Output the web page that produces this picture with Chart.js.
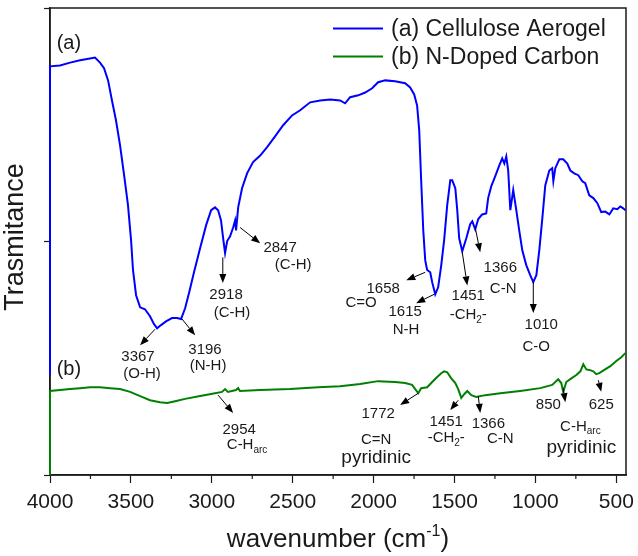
<!DOCTYPE html>
<html>
<head>
<meta charset="utf-8">
<script src="https://cdn.jsdelivr.net/npm/chart.js@4.4.1/dist/chart.umd.min.js"></script>
<style>
  html, body { margin: 0; padding: 0; background: #fff; }
</style>
</head>
<body>
<canvas id="ftirChart" width="638" height="556"></canvas>
<script>
// FTIR spectra: wavenumber (cm-1) vs. transmittance (arbitrary offset units)
const waveA = [
  4000, 4000, 3938, 3876, 3814, 3753, 3722, 3691, 3666, 3641,
  3617, 3592, 3567, 3542, 3518, 3499, 3487, 3468, 3443, 3413,
  3382, 3357, 3338, 3314, 3283, 3246, 3215, 3190, 3165, 3140,
  3110, 3072, 3035, 3004, 2980, 2961, 2943, 2930, 2918, 2905,
  2887, 2868, 2856, 2850, 2837, 2813, 2782, 2745, 2701, 2658,
  2609, 2559, 2504, 2454, 2392, 2330, 2268, 2207, 2176, 2145,
  2095, 2052, 2009, 1972, 1928, 1867, 1805, 1774, 1749, 1731,
  1718, 1706, 1693, 1681, 1669, 1650, 1638, 1619, 1601, 1582,
  1564, 1545, 1526, 1514, 1495, 1483, 1471, 1452, 1427, 1403,
  1390, 1372, 1353, 1329, 1304, 1292, 1273, 1248, 1223, 1205,
  1192, 1180, 1168, 1155, 1137, 1118, 1100, 1081, 1056, 1032,
  1013, 994, 976, 957, 939, 914, 896, 889, 877, 852,
  828, 803, 784, 760, 735, 710, 692, 667, 642, 617,
  593, 568, 543, 519, 494, 475, 457, 444
];
const transA = [
  21.4, 87.5, 87.7, 88.3, 88.8, 89.2, 89.4, 88.3, 87.1, 84.5,
  80.2, 75.9, 70.6, 64.2, 57.8, 50.3, 43.9, 38.5, 35.9, 35.5,
  34.0, 32.3, 31.4, 32.1, 32.9, 33.6, 33.6, 33.4, 35.7, 39.1,
  43.4, 48.6, 53.5, 56.7, 57.3, 56.7, 54.5, 50.7, 47.5, 50.1,
  51.1, 53.0, 54.5, 52.4, 57.3, 61.4, 64.6, 67.0, 68.4, 70.2,
  72.5, 74.9, 77.0, 78.1, 79.8, 80.2, 80.4, 80.2, 79.6, 80.9,
  81.3, 81.9, 82.8, 84.1, 84.5, 84.3, 83.9, 83.0, 81.5, 79.1,
  73.8, 63.1, 52.4, 46.0, 43.9, 43.4, 41.3, 38.7, 40.2, 44.9,
  50.3, 57.8, 63.1, 63.1, 61.4, 56.7, 50.7, 47.9, 50.7, 53.7,
  54.3, 52.6, 54.8, 55.8, 56.0, 59.3, 61.8, 64.0, 66.3, 67.8,
  66.7, 68.2, 65.2, 56.7, 61.0, 56.7, 52.4, 48.1, 44.9, 42.8,
  41.3, 42.8, 48.1, 55.0, 62.0, 65.2, 65.7, 62.9, 65.7, 67.6,
  67.6, 66.7, 65.2, 64.6, 64.2, 62.9, 62.5, 59.9, 59.3, 58.2,
  56.3, 56.4, 55.8, 57.1, 56.9, 57.5, 57.1, 56.7
];

const waveB = [
  4000, 4000, 3938, 3876, 3814, 3753, 3691, 3629, 3567, 3505,
  3443, 3382, 3320, 3276, 3227, 3165, 3072, 2980, 2937, 2918,
  2900, 2850, 2837, 2826, 2701, 2516, 2343, 2207, 2083, 1972,
  1867, 1805, 1762, 1724, 1706, 1669, 1638, 1607, 1582, 1564,
  1545, 1520, 1495, 1477, 1458, 1440, 1421, 1396, 1366, 1310,
  1217, 1094, 970, 896, 859, 840, 828, 809, 778, 747,
  722, 704, 685, 667, 642, 624, 605, 574, 537, 500,
  469, 444
];
const transB = [
  0, 18.0, 18.2, 18.4, 18.6, 18.8, 18.8, 18.6, 18.4, 17.8,
  16.9, 16.0, 15.6, 15.4, 15.8, 16.3, 16.9, 17.5, 17.8, 18.4,
  17.8, 18.2, 18.6, 18.0, 18.2, 18.4, 18.8, 19.0, 19.5, 20.1,
  19.9, 19.7, 19.3, 17.5, 18.6, 18.8, 19.9, 21.0, 21.8, 22.2,
  22.0, 20.7, 19.7, 18.4, 16.5, 17.3, 18.0, 17.1, 16.7, 17.1,
  17.5, 18.0, 18.6, 19.3, 20.5, 19.7, 17.8, 19.9, 20.7, 21.4,
  22.2, 23.7, 22.6, 22.5, 22.2, 21.6, 21.8, 22.5, 23.3, 24.4,
  25.2, 26.1
];

const seriesLabels = ['(a) Cellulose Aerogel', '(b) N-Doped Carbon'];
const seriesColors = ['#0000ff', '#008000'];

const xMajorTicks = [4000, 3500, 3000, 2500, 2000, 1500, 1000, 500];
const xMinorTicks = [3750, 3250, 2750, 2250, 1750, 1250, 750];
const yTicks = [0, 50, 100];

// band assignments: arrow [fromWave, fromT, toWave, toT]
const bandArrows = [
  [2825, 53.0, 2701, 49.6],
  [2932, 46.6, 2932, 41.1],
  [3351, 31.2, 3443, 27.8],
  [3184, 33.4, 3103, 29.9],
  [1681, 43.4, 1798, 41.7],
  [1625, 38.7, 1737, 36.8],
  [1452, 47.7, 1421, 40.6],
  [1372, 53.0, 1341, 47.7],
  [1013, 41.3, 1013, 34.7],
  [2961, 17.1, 2868, 13.3],
  [1724, 17.5, 1836, 15.0],
  [1477, 16.0, 1526, 13.9],
  [1353, 16.9, 1341, 13.3],
  [828, 18.6, 815, 15.6],
  [611, 20.3, 593, 17.8]
];

// band text: [wave, T, parts]; {sub: ...} pieces are subscripts
const bandTexts = [
  [2578, 48.6, ['2847']], [2497, 44.9, ['(C-H)']],
  [2912, 38.5, ['2918']], [2875, 34.7, ['(C-H)']],
  [3456, 25.2, ['3367']], [3431, 21.6, ['(O-H)']],
  [3042, 26.7, ['3196']], [3023, 23.3, ['(N-H)']],
  [1941, 39.8, ['1658']], [2077, 36.8, ['C=O']],
  [1805, 34.9, ['1615']], [1799, 31.0, ['N-H']],
  [1415, 38.3, ['1451']], [1415, 34.2, ['-CH', {sub: '2'}, '-']],
  [1217, 44.3, ['1366']], [1199, 39.8, ['C-N']],
  [964, 32.1, ['1010']], [995, 27.4, ['C-O']],
  [2831, 9.6, ['2954']], [2782, 6.4, ['C-H', {sub: 'arc'}]],
  [1972, 13.0, ['1772']], [1984, 7.5, ['C=N']],
  [1551, 11.3, ['1451']], [1551, 7.9, ['-CH', {sub: '2'}, '-']],
  [1291, 10.9, ['1366']], [1217, 7.7, ['C-N']],
  [920, 15.0, ['850']], [722, 10.3, ['C-H', {sub: 'arc'}]],
  [593, 15.0, ['625']]
];
const bigTexts = [
  [1984, 3.6, 'pyridinic'],
  [716, 5.8, 'pyridinic']
];
const curveTags = [
  [3883, 92.4, '(a)'],
  [3883, 22.7, '(b)']
];

const FONT = '"Liberation Sans", Arial, sans-serif';
const INK = '#1a1a1a';

const drawRich = (ctx, parts, cx, cy, size) => {
  const pieces = parts.map((p) =>
    typeof p === 'string' ? { t: p, sub: false } : { t: p.sub, sub: true }
  );
  let total = 0;
  pieces.forEach((p) => {
    p.size = p.sub ? Math.round(size * 0.68) : size;
    ctx.font = `${p.size}px ${FONT}`;
    p.w = ctx.measureText(p.t).width;
    total += p.w;
  });
  let x = cx - total / 2;
  ctx.textAlign = 'left';
  ctx.textBaseline = 'middle';
  pieces.forEach((p) => {
    ctx.font = `${p.size}px ${FONT}`;
    ctx.fillText(p.t, x, cy + (p.sub ? size * 0.32 : 0));
    x += p.w;
  });
};

const drawArrow = (ctx, x1, y1, x2, y2) => {
  const a = Math.atan2(y2 - y1, x2 - x1);
  const head = 9;
  const half = 3.5;
  const bx = x2 - head * Math.cos(a);
  const by = y2 - head * Math.sin(a);
  ctx.beginPath();
  ctx.moveTo(x1, y1);
  ctx.lineTo(bx, by);
  ctx.stroke();
  ctx.beginPath();
  ctx.moveTo(x2, y2);
  ctx.lineTo(bx + half * Math.sin(a), by - half * Math.cos(a));
  ctx.lineTo(bx - half * Math.sin(a), by + half * Math.cos(a));
  ctx.closePath();
  ctx.fill();
};

const frameAndTicks = {
  id: 'frameAndTicks',
  beforeDatasetsDraw(chart) {
    const { ctx, chartArea: a, scales } = chart;
    ctx.save();
    ctx.strokeStyle = INK;
    ctx.lineWidth = 1.5;
    ctx.strokeRect(a.left, a.top, a.right - a.left, a.bottom - a.top);
    // minor ticks on the wavenumber axis
    ctx.lineWidth = 1.2;
    xMinorTicks.forEach((v) => {
      const x = scales.x.getPixelForValue(v);
      ctx.beginPath();
      ctx.moveTo(x, a.bottom);
      ctx.lineTo(x, a.bottom + 4);
      ctx.stroke();
    });
    ctx.restore();
  },
};

const bandLabels = {
  id: 'bandLabels',
  afterDatasetsDraw(chart) {
    const { ctx, chartArea: a, scales } = chart;
    const px = (w) => scales.x.getPixelForValue(w);
    const py = (t) => scales.y.getPixelForValue(t);
    ctx.save();
    ctx.strokeStyle = '#000';
    ctx.fillStyle = '#000';
    ctx.lineWidth = 1;
    bandArrows.forEach(([w1, t1, w2, t2]) => drawArrow(ctx, px(w1), py(t1), px(w2), py(t2)));

    ctx.fillStyle = '#1a1a1a';
    bandTexts.forEach(([w, t, parts]) => drawRich(ctx, parts, px(w), py(t), 15));
    bigTexts.forEach(([w, t, s]) => drawRich(ctx, [s], px(w), py(t), 19));
    curveTags.forEach(([w, t, s]) => drawRich(ctx, [s], px(w), py(t), 20));

    // legend
    ctx.font = `23px ${FONT}`;
    ctx.textAlign = 'left';
    ctx.textBaseline = 'middle';
    chart.data.datasets.forEach((ds, i) => {
      const y = a.top + 20.5 + i * 28;
      const x0 = a.right - 293;
      ctx.strokeStyle = ds.borderColor;
      ctx.lineWidth = 2;
      ctx.beginPath();
      ctx.moveTo(x0, y);
      ctx.lineTo(x0 + 50, y);
      ctx.stroke();
      ctx.fillStyle = '#1a1a1a';
      ctx.fillText(ds.label, x0 + 58, y + 1);
    });

    // y-axis title
    ctx.save();
    ctx.translate(16, 237);
    ctx.rotate(-Math.PI / 2);
    ctx.font = `27px ${FONT}`;
    ctx.textAlign = 'center';
    ctx.textBaseline = 'middle';
    ctx.fillText('Trasmitance', 0, 0);
    ctx.restore();

    // x-axis title with superscript
    const main = 'wavenumber (cm';
    const sup = '-1';
    const tail = ')';
    ctx.font = `26px ${FONT}`;
    const wMain = ctx.measureText(main).width;
    const wTail = ctx.measureText(tail).width;
    ctx.font = `16px ${FONT}`;
    const wSup = ctx.measureText(sup).width;
    let x = (a.left + a.right) / 2 - (wMain + wSup + wTail) / 2;
    const base = 547;
    ctx.textAlign = 'left';
    ctx.textBaseline = 'alphabetic';
    ctx.font = `26px ${FONT}`;
    ctx.fillText(main, x, base);
    x += wMain;
    ctx.font = `16px ${FONT}`;
    ctx.fillText(sup, x, base - 11);
    x += wSup;
    ctx.font = `26px ${FONT}`;
    ctx.fillText(tail, x, base);
    ctx.restore();
  },
};

const toPoints = (xs, ys) => xs.map((w, i) => ({ x: w, y: ys[i] }));

new Chart(document.querySelector('#ftirChart'), {
  type: 'line',
  data: {
    datasets: [
      {
        label: seriesLabels[0],
        data: toPoints(waveA, transA),
        borderColor: seriesColors[0],
        backgroundColor: seriesColors[0],
        borderWidth: 2,
        pointRadius: 0,
        tension: 0,
        clip: false,
      },
      {
        label: seriesLabels[1],
        data: toPoints(waveB, transB),
        borderColor: seriesColors[1],
        backgroundColor: seriesColors[1],
        borderWidth: 2,
        pointRadius: 0,
        tension: 0,
        clip: false,
      },
    ],
  },
  options: {
    responsive: false,
    animation: false,
    devicePixelRatio: 1,
    layout: { padding: { top: 8, right: 12, left: 0, bottom: 0 } },
    plugins: {
      legend: { display: false },
      tooltip: { enabled: false },
    },
    scales: {
      x: {
        type: 'linear',
        reverse: true,
        min: 440,
        max: 4000,
        afterBuildTicks: (scale) => {
          scale.ticks = xMajorTicks.map((v) => ({ value: v }));
        },
        afterFit: (scale) => {
          scale.height = 81;
          scale.paddingLeft = 0;
          scale.paddingRight = 0;
        },
        border: { display: true, color: INK, width: 1.5 },
        grid: {
          drawOnChartArea: false,
          tickLength: 8,
          tickWidth: 1.2,
          tickColor: INK,
        },
        ticks: {
          maxRotation: 0,
          autoSkip: false,
          padding: 7,
          color: '#1a1a1a',
          font: { family: FONT, size: 21 },
          callback: (v) => String(v),
        },
      },
      y: {
        min: 0,
        max: 100,
        afterBuildTicks: (scale) => {
          scale.ticks = yTicks.map((v) => ({ value: v }));
        },
        afterFit: (scale) => { scale.width = 50; },
        border: { display: true, color: INK, width: 1.5 },
        grid: {
          drawOnChartArea: false,
          tickLength: 6,
          tickWidth: 1.2,
          tickColor: INK,
        },
        ticks: { display: false },
      },
    },
  },
  plugins: [frameAndTicks, bandLabels],
});
</script>
</body>
</html>
